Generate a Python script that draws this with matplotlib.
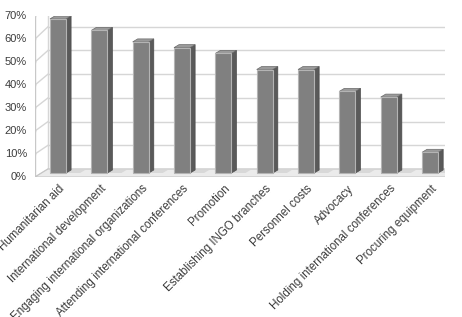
import numpy as np
import matplotlib
matplotlib.use('Agg')
import matplotlib.pyplot as plt
from matplotlib import transforms
from matplotlib.patches import Polygon

plt.rcParams['font.family'] = ['Liberation Sans', 'DejaVu Sans']

categories = ['Humanitarian aid', 'International development',
              'Engaging international organizations',
              'Attending international conferences', 'Promotion',
              'Establishing INGO branches', 'Personnel costs', 'Advocacy',
              'Holding international conferences', 'Procuring equipment']
values = [67, 62, 57, 54.5, 52, 45, 45, 35.5, 33, 9]
ticks = [0, 10, 20, 30, 40, 50, 60, 70]
tick_labels = ['0%', '10%', '20%', '30%', '40%', '50%', '60%', '70%']

fig = plt.figure(figsize=(4.62, 3.17), dpi=100)
ax = fig.add_axes([35 / 462, 1 - 177 / 317, 410 / 462, 161 / 317])
ax.set_xlim(-0.557, 9.36)
ax.set_ylim(0, 70)
ax.axis('off')
x0, x1 = ax.get_xlim()

# back wall: shifted right/up and a bit taller (perspective)
ox, oy = ax.transData.transform((x0, 0))
back = ax.transData + transforms.Affine2D().translate(-ox, -oy).scale(1, 166 / 161).translate(ox + 13, oy + 8)
mid = transforms.offset_copy(ax.transData, fig, x=0, y=4, units='dots')
front = ax.transData

grid_c = '#d6d6d6'
# floor
floor_front = ax.transData.transform([(x0, 0), (x1, 0)])
floor_back = back.transform([(x1, 0), (x0, 0)])
ax.add_patch(Polygon(np.vstack([floor_front, floor_back]), closed=True,
                     transform=None, facecolor='#ebebeb', edgecolor='#c4c4c4',
                     lw=0.8, zorder=1))

# back wall and side wall gridlines
for t, lab in zip(ticks, tick_labels):
    p_back = back.transform([(x0, t), (x1, t)])
    p_front = front.transform([(x0, t)])
    ax.plot(p_back[:, 0], p_back[:, 1], color=grid_c, lw=1, transform=None, zorder=0)
    ax.plot([p_front[0, 0], p_back[0, 0]], [p_front[0, 1], p_back[0, 1]],
            color=grid_c, lw=1, transform=None, zorder=0)
    ax.plot([p_front[0, 0] - 4, p_front[0, 0]], [p_front[0, 1], p_front[0, 1]],
            color='#bfbfbf', lw=1, transform=None, zorder=0)
    ax.text(x0, t, lab, transform=transforms.offset_copy(
        ax.transData, fig, x=-8, y=0, units='dots'),
        ha='right', va='center', fontsize=8, color='#3c3c3c')
# wall edges
wb = back.transform([(x0, 0), (x0, 70)])
wf = front.transform([(x0, 0), (x0, 70)])
ax.plot(wb[:, 0], wb[:, 1], color=grid_c, lw=1, transform=None, zorder=0)
ax.plot(wf[:, 0], wf[:, 1], color='#c8c8c8', lw=1, transform=None, zorder=0)
ax.plot([wf[1, 0], wb[1, 0]], [wf[1, 1], wb[1, 1]], color=grid_c, lw=1,
        transform=None, zorder=0)

# bars drawn as pseudo-3D columns
w = 0.39
ddx, ddy = 5, 3
for i, v in enumerate(values):
    xa, xb = i - w / 2, i + w / 2
    fb = mid.transform([(xa, 0), (xb, 0), (xb, v), (xa, v)])
    side = np.array([fb[1], fb[1] + [ddx, ddy], fb[2] + [ddx, ddy], fb[2]])
    top = np.array([fb[3], fb[2], fb[2] + [ddx, ddy], fb[3] + [ddx, ddy]])
    shadow = np.array([fb[1], fb[1] + [ddx, ddy], fb[1] + [ddx + 14, ddy],
                       fb[1] + [14, 0]])
    ax.add_patch(Polygon(shadow, transform=None, facecolor='#d8d8d8',
                         edgecolor='none', zorder=2))
    ax.add_patch(Polygon(side, transform=None, facecolor='#5a5a5a',
                         edgecolor='#4a4a4a', lw=0.5, zorder=3))
    ax.add_patch(Polygon(top, transform=None, facecolor='#9a9a9a',
                         edgecolor='#6a6a6a', lw=0.5, zorder=3))
    ax.add_patch(Polygon(fb, transform=None, facecolor='#808080',
                         edgecolor='#b4b4b4', lw=0.8, zorder=4))

# category labels
lab_tr = transforms.offset_copy(ax.transData, fig, x=5, y=-10, units='dots')
for i, c in enumerate(categories):
    ax.text(i, 0, c, transform=lab_tr, rotation=45, rotation_mode='anchor',
            ha='right', va='center', fontsize=8.3, color='#3c3c3c')

fig.savefig('out.png', dpi=100)
